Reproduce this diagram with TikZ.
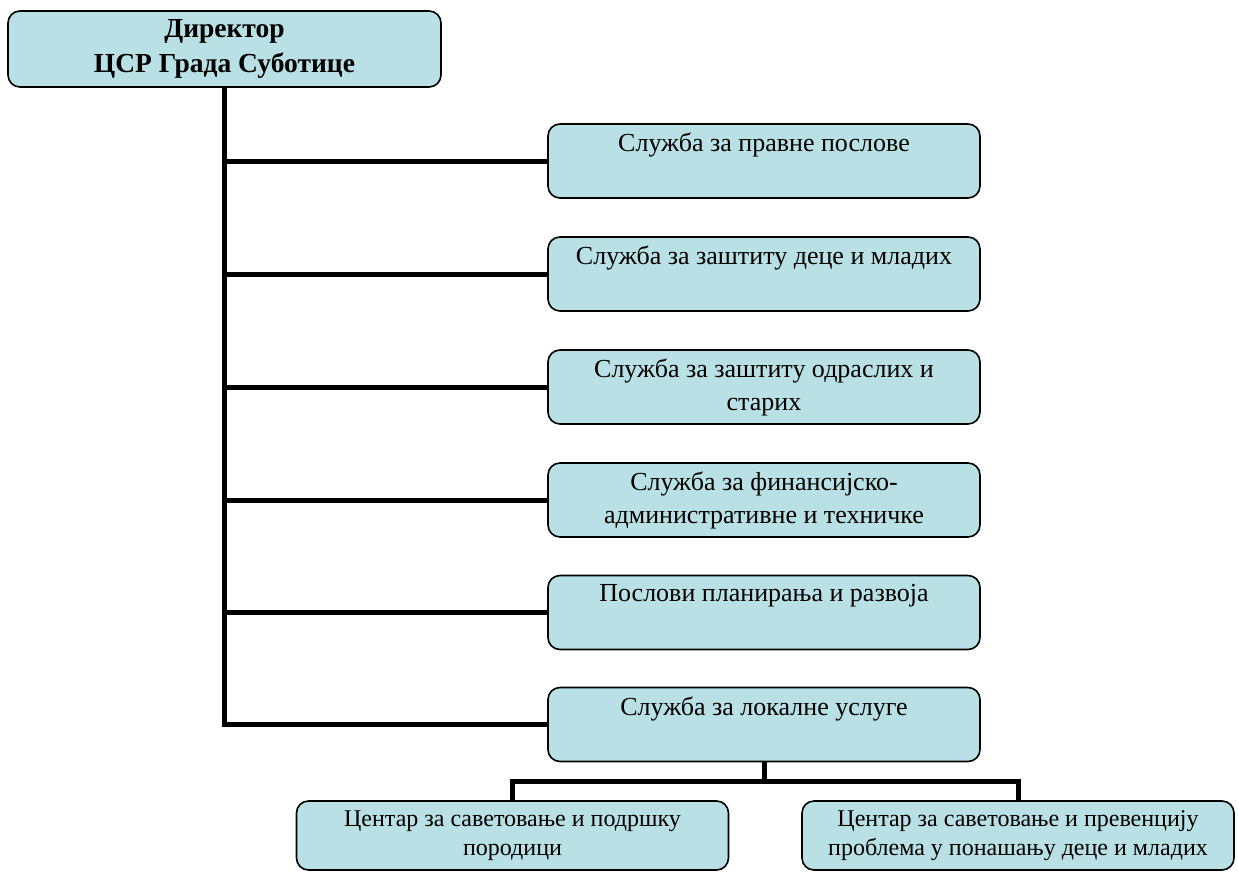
\documentclass[tikz,border=0pt]{standalone}
\usepackage{fontspec}
\setmainfont{Liberation Serif}
\usetikzlibrary{calc}
\definecolor{boxfill}{RGB}{185,224,228}
\tikzset{
  orgbox/.style={draw=black, line width=1.6pt, fill=boxfill, rounded corners=12pt,
    inner sep=0pt, minimum width=432pt, minimum height=74pt},
  conn/.style={draw=black, line width=5pt},
}
\newcommand{\sidetext}[1]{\parbox[c][74pt][t]{425pt}{\centering\fontsize{26}{33}\selectfont\vspace*{9pt}#1\par}}
\newcommand{\bottext}[1]{\parbox[c][69pt][t]{425pt}{\centering\fontsize{24}{29}\selectfont\vspace*{10pt}#1\par}}
\begin{document}
\begin{tikzpicture}[x=1pt,y=-1pt]
\useasboundingbox (0,0) rectangle (1238,872);
\node[orgbox, minimum width=433pt, minimum height=76pt] (dir) at (224.5,49)
  {\parbox[c][76pt][t]{425pt}{\centering\fontsize{27.5}{35}\selectfont\bfseries\vspace*{8pt}Директор\\ЦСР Града Суботице\par}};
\node[orgbox] (s1) at (764,161) {\sidetext{Служба за правне послове}};
\node[orgbox] (s2) at (764,274) {\sidetext{Служба за заштиту деце и младих}};
\node[orgbox] (s3) at (764,387) {\sidetext{Служба за заштиту одраслих и\\старих}};
\node[orgbox] (s4) at (764,500) {\sidetext{Служба за финансијско-\\административне и техничке}};
\node[orgbox] (s5) at (764,612.5) {\sidetext{Послови планирања и развоја}};
\node[orgbox] (s6) at (764,724.5) {\sidetext{Служба за локалне услуге}};
\node[orgbox, minimum height=69pt] (c1) at (512.5,835.5) {\bottext{Центар за саветовање и подршку\\породици}};
\node[orgbox, minimum height=69pt] (c2) at (1018,835.5) {\bottext{Центар за саветовање и превенцију\\проблема у понашању деце и младих}};
% connectors
\draw[conn] (dir.south) |- (s6.west);
\foreach \s in {s1,s2,s3,s4,s5} \draw[conn] (dir.south |- \s.west) -- (\s.west);
\coordinate (bus) at ($(s6.south)!0.5!(s6.south |- c1.north)$);
\draw[conn] (s6.south) -- (bus);
\draw[conn] (c1.north) |- (bus) -| (c2.north);
\end{tikzpicture}
\end{document}
